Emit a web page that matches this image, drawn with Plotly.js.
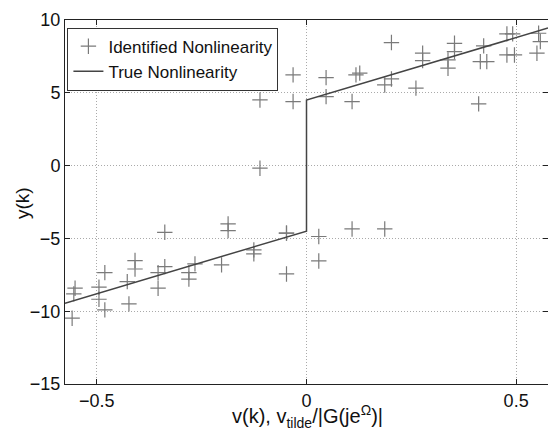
<!DOCTYPE html>
<html>
<head>
<meta charset="utf-8">
<script src="https://cdn.plot.ly/plotly-3.0.1.min.js"></script>
<style>html,body{margin:0;padding:0;background:#fff;}#chart{width:548px;height:432px;}</style>
</head>
<body>
<div id="chart"></div>
<script>
// Identified nonlinearity samples
const identX = [-0.559,-0.552,-0.555,-0.495,-0.495,-0.481,-0.481,-0.4275,-0.4235,-0.409,-0.409,
  -0.354,-0.354,-0.338,-0.338,-0.2805,-0.2805,-0.266,-0.2026,-0.187,-0.187,-0.1256,-0.1256,
  -0.111,-0.111,-0.0477,-0.0477,-0.032,-0.032,-0.0477,
  0.0293,0.0293,0.1087,0.1866,
  0.0467,0.0467,0.1087,0.118,0.127,0.1866,0.2026,0.2026,0.261,0.277,0.277,
  0.3375,0.3375,0.353,0.353,0.4106,0.4146,0.430,0.4226,0.478,0.4917,0.478,0.496,0.5496,0.5536,0.5577];
const identY = [-10.48,-8.42,-8.81,-8.35,-9.18,-7.35,-9.91,-7.97,-9.5,-6.52,-7.1,
  -7.35,-8.42,-6.94,-4.58,-7.35,-7.8,-6.75,-6.82,-4.0,-4.46,-5.79,-6.06,
  -0.18,4.51,-4.64,-7.44,6.23,4.4,-4.64,
  -4.87,-6.55,-4.35,-4.35,
  6.04,4.74,4.4,6.23,6.35,5.54,5.95,8.45,5.32,7.72,7.21,
  7.26,6.69,8.4,7.83,4.24,7.14,7.14,8.22,9.05,9.05,7.6,7.6,7.72,9.09,8.52];
// True nonlinearity
const trueX = [-0.576, 0, 0, 0.576];
const trueY = [-9.45, -4.5, 4.5, 9.45];
const xTicks = [-0.5, 0, 0.5];
const yTicks = [-15, -10, -5, 0, 5, 10];
const xLabel = 'v(k), v<sub>tilde</sub>/|G(je<sup>Ω</sup>)|';
const yLabel = 'y(k)';

const fam = 'Liberation Sans, Arial, sans-serif';
const font = {family: fam, size: 18, color: '#111'};
const data = [
  {x: identX, y: identY, type: 'scatter', mode: 'markers', name: 'Identified Nonlinearity',
   marker: {symbol: 'cross-thin-open', size: 11, color: '#7a7a7a', line: {width: 1.2, color: '#7a7a7a'}}},
  {x: trueX, y: trueY, type: 'scatter', mode: 'lines', name: 'True Nonlinearity',
   line: {color: '#444', width: 1.5}}
];
const axisCommon = {
  showline: true, mirror: 'ticks', linecolor: '#222', linewidth: 1,
  ticks: 'inside', ticklen: 5, tickcolor: '#222',
  showgrid: true, gridcolor: '#aaa', griddash: '1px,2px', gridwidth: 1,
  zeroline: false, tickfont: font
};
const layout = {
  width: 548, height: 432,
  margin: {l: 65, r: 0, t: 20, b: 48},
  paper_bgcolor: '#fff', plot_bgcolor: '#fff',
  font: font,
  showlegend: true,
  legend: {x: 0.005, y: 0.979, xanchor: 'left', yanchor: 'top', bgcolor: '#fff',
    bordercolor: '#333', borderwidth: 1, font: {family: fam, size: 17, color: '#111'},
    tracegroupgap: 0, itemwidth: 30},
  xaxis: Object.assign({}, axisCommon, {range: [-0.576, 0.576], tickvals: xTicks}),
  yaxis: Object.assign({}, axisCommon, {range: [-15, 10], tickvals: yTicks}),
  annotations: [
    {text: xLabel, xref: 'paper', yref: 'paper', x: 0.503, y: -0.131, xanchor: 'center', yanchor: 'bottom',
     showarrow: false, borderpad: 0, font: {family: fam, size: 20, color: '#111'}},
    {text: yLabel, xref: 'paper', yref: 'paper', x: -0.089, y: 0.497, xanchor: 'center', yanchor: 'middle',
     textangle: -90, showarrow: false, font: {family: fam, size: 19, color: '#111'}}
  ]
};
Plotly.newPlot('chart', data, layout, {displayModeBar: false, staticPlot: true});
</script>
</body>
</html>
